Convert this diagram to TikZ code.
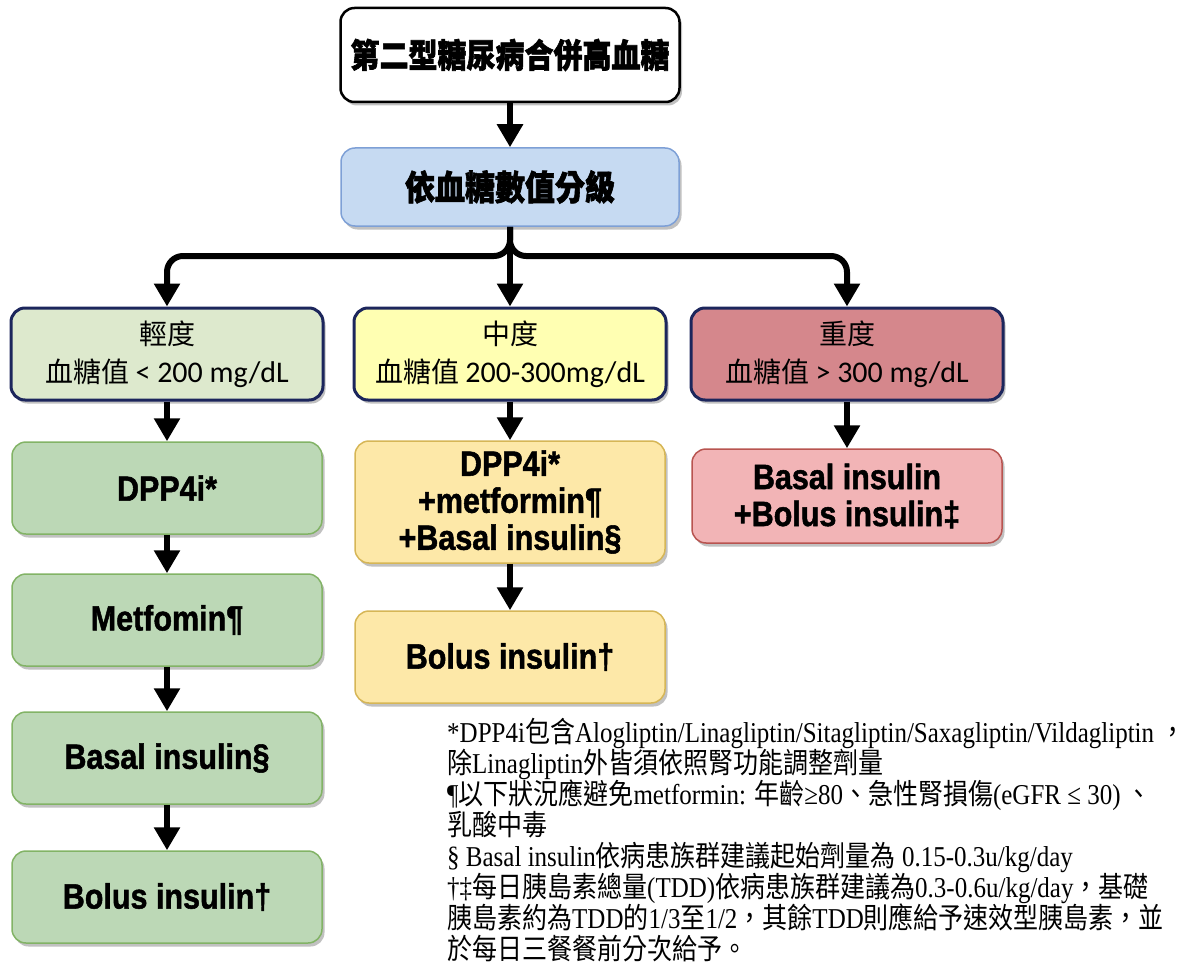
\documentclass[tikz,border=0pt]{standalone}
\usepackage{fontspec}
\setmainfont{Liberation Serif}
\newfontfamily\cjk{Noto Sans CJK TC}
\newfontfamily\cjkhv{Noto Sans CJK TC}[BoldFeatures={FakeBold=2}]
\newfontfamily\lsans{Liberation Sans}[BoldFeatures={FakeBold=1.5}]
\newfontfamily\carl{Carlito}
\usetikzlibrary{arrows.meta,shadows}
\newcommand{\zh}[1]{{\cjk #1}}
\newcommand{\tall}[1]{\scalebox{1}[1.15]{#1}}
\definecolor{navy}{RGB}{28,38,92}
\definecolor{bluefill}{RGB}{198,218,242}
\definecolor{blueline}{RGB}{126,160,214}
\definecolor{lvlA}{RGB}{221,233,205}
\definecolor{lvlB}{RGB}{255,255,178}
\definecolor{lvlC}{RGB}{213,135,140}
\definecolor{grnfill}{RGB}{188,216,182}
\definecolor{grnline}{RGB}{130,179,102}
\definecolor{ylwfill}{RGB}{253,232,168}
\definecolor{ylwline}{RGB}{214,182,86}
\definecolor{pnkfill}{RGB}{242,180,182}
\definecolor{pnkline}{RGB}{184,84,80}
\tikzset{
  shad/.style={drop shadow={shadow xshift=2.5pt,shadow yshift=-3.5pt,opacity=0.35,fill=black!70}},
  box/.style={rounded corners=14pt, align=center, inner sep=0pt, shad},
  topbox/.style={box, fill=white, draw=black, line width=2.5pt, minimum width=339pt, minimum height=94pt,
    font=\fontsize{29}{34}\selectfont\cjkhv\bfseries},
  bluebox/.style={box, fill=bluefill, draw=blueline, line width=1.5pt, minimum width=338pt, minimum height=78pt,
    font=\fontsize{30}{34}\selectfont\cjkhv\bfseries},
  lvl/.style={box, draw=navy, line width=3pt, minimum width=312pt, minimum height=92pt,
    font=\fontsize{28}{38}\selectfont},
  drug/.style={box, line width=1.5pt, minimum width=310pt, minimum height=92pt,
    font=\fontsize{30.5}{37}\selectfont\lsans\bfseries},
  grn/.style={drug, fill=grnfill, draw=grnline},
  ylw/.style={drug, fill=ylwfill, draw=ylwline},
  pnk/.style={drug, fill=pnkfill, draw=pnkline},
  arr/.style={line width=6pt, -{Triangle[width=25pt,length=23pt]}},
  fn/.style={anchor=base west, inner sep=0pt, font=\fontsize{25}{31}\selectfont}
}
\begin{document}
\begin{tikzpicture}[x=1pt,y=-1pt]
\useasboundingbox (0,0) rectangle (1197,963);
% top
\node[topbox] (top) at (510,55) {\tall{第二型糖尿病合併高血糖}};
\node[bluebox] (blue) at (510,187) {\tall{依血糖數值分級}};
% levels
\node[lvl, fill=lvlA] (lvA) at (167,354) {\zh{輕度}\\\zh{血糖值}{\carl\ \fontsize{30}{38}\selectfont< 200 mg/dL}};
\node[lvl, fill=lvlB] (lvB) at (510,354) {\zh{中度}\\\zh{血糖值}{\carl\ \fontsize{30}{38}\selectfont 200-300mg/dL}};
\node[lvl, fill=lvlC] (lvC) at (847,354) {\zh{重度}\\\zh{血糖值}{\carl\ \fontsize{30}{38}\selectfont> 300 mg/dL}};
% left column
\node[grn] (a1) at (167,488) {\tall{DPP4i*}};
\node[grn] (a2) at (167,620) {\tall{Metfomin¶}};
\node[grn] (a3) at (167,758) {\tall{Basal insulin§}};
\node[grn] (a4) at (167,897) {\tall{Bolus insulin†}};
% middle column
\node[ylw, minimum height=122pt] (b1) at (510,502) {\tall{DPP4i*}\\\tall{+metformin¶}\\\tall{+Basal insulin§}};
\node[ylw] (b2) at (510,657) {\tall{Bolus insulin†}};
% right column
\node[pnk, minimum height=94pt] (c1) at (847,496) {\tall{Basal insulin}\\\tall{+Bolus insulin‡}};
% connectors
\draw[arr] (top) -- (blue);
\coordinate (j) at (510,256);
\draw[arr, rounded corners=16pt] (blue.south) -- (j) -- (j -| lvA.north) -- (lvA.north);
\draw[arr, rounded corners=16pt] (blue.south) -- (j) -- (j -| lvC.north) -- (lvC.north);
\draw[arr] (blue.south) -- (lvB.north);
\draw[arr] (lvA) -- (a1);
\draw[arr] (a1) -- (a2);
\draw[arr] (a2) -- (a3);
\draw[arr] (a3) -- (a4);
\draw[arr] (lvB) -- (b1);
\draw[arr] (b1) -- (b2);
\draw[arr] (lvC) -- (c1);
% footnotes
\node[fn] (f1) at (447,742) {\tall{*DPP4i\zh{包含}Alogliptin/Linagliptin/Sitagliptin/Saxagliptin/Vildagliptin \zh{，}}};
\node[fn] (f2) at (447,773) {\tall{\zh{除}Linagliptin\zh{外皆須依照腎功能調整劑量}}};
\node[fn] (f3) at (447,804) {\tall{¶\zh{以下狀況應避免}metformin: \zh{年齡}≥80\zh{、急性腎損傷}(eGFR ≤ 30) \zh{、}}};
\node[fn] (f4) at (447,835) {\tall{\zh{乳酸中毒}}};
\node[fn] (f5) at (447,866) {\tall{§ Basal insulin\zh{依病患族群建議起始劑量為} 0.15-0.3u/kg/day}};
\node[fn] (f6) at (447,897) {\tall{†‡\zh{每日胰島素總量}(TDD)\zh{依病患族群建議為}0.3-0.6u/kg/day\zh{，基礎}}};
\node[fn] (f7) at (447,928) {\tall{\zh{胰島素約為}TDD\zh{的}1/3\zh{至}1/2\zh{，其餘}TDD\zh{則應給予速效型胰島素，並}}};
\node[fn] (f8) at (447,959) {\tall{\zh{於每日三餐餐前分次給予。}}};
\end{tikzpicture}
\end{document}
